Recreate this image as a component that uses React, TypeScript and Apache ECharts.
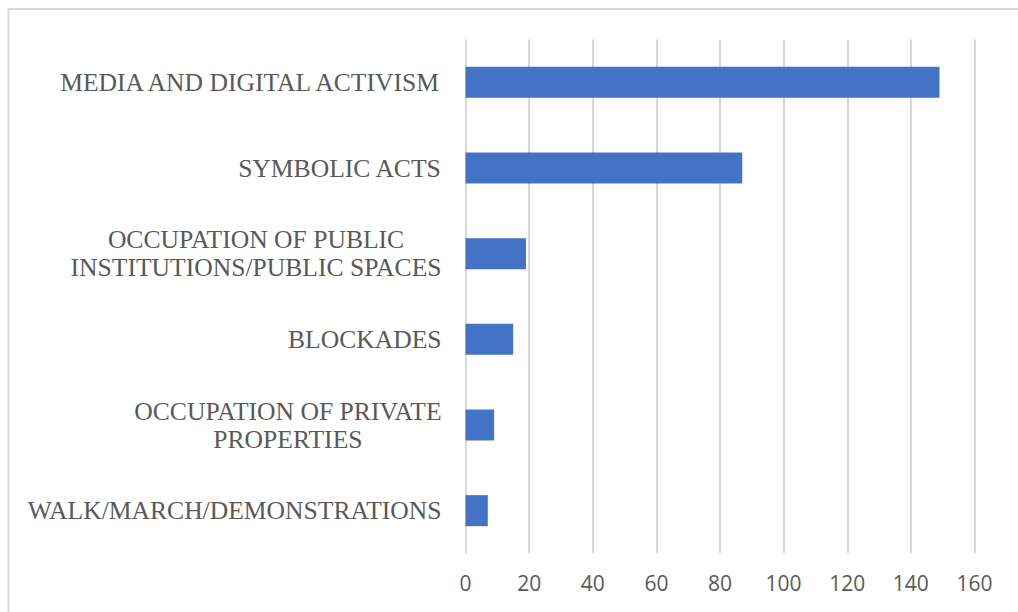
import React, { useEffect, useRef } from "react";
import * as echarts from "echarts";

const categories: string[] = [
  "MEDIA AND DIGITAL ACTIVISM",
  "SYMBOLIC ACTS",
  "OCCUPATION OF PUBLIC\nINSTITUTIONS/PUBLIC SPACES",
  "BLOCKADES",
  "OCCUPATION OF PRIVATE\nPROPERTIES",
  "WALK/MARCH/DEMONSTRATIONS",
];
const values: number[] = [149, 87, 19, 15, 9, 7];
const xMin = 0;
const xMax = 160;
const xInterval = 20;

export default function App() {
  const ref = useRef<HTMLDivElement>(null);
  useEffect(() => {
    if (!ref.current) return;
    const chart = echarts.init(ref.current, undefined, { renderer: "svg" });
    chart.setOption({
      animation: false,
      backgroundColor: "#ffffff",
      graphic: [
        {
          type: "rect",
          shape: { x: 8.5, y: 9, width: 1200, height: 800 },
          style: { fill: "none", stroke: "#d9d9d9", lineWidth: 2 },
          silent: true,
        },
      ],
      grid: { left: 465.5, right: 43.5, top: 39.5, bottom: 58.5, containLabel: false },
      xAxis: {
        type: "value",
        min: xMin,
        max: xMax,
        interval: xInterval,
        axisLine: { show: false },
        axisTick: { show: false },
        splitLine: { show: true, lineStyle: { color: "#d9d9d9", width: 2 } },
        axisLabel: {
          color: "#595959",
          fontFamily: "Open Sans",
          fontSize: 21,
          margin: 19,
        },
      },
      yAxis: {
        type: "category",
        data: categories,
        inverse: true,
        axisLine: { show: false },
        axisTick: { show: false },
        axisLabel: {
          margin: 24,
          color: "#595959",
          fontFamily: "Liberation Serif",
          fontSize: 25.6,
          lineHeight: 28,
          formatter: (v: string) =>
            v
              .split("\n")
              .map((l) => "{c|" + l + "}")
              .join("\n"),
          rich: {
            c: {
              align: "center",
              color: "#595959",
              fontFamily: "Liberation Serif",
              fontSize: 25.6,
              lineHeight: 28,
            },
          },
        },
      },
      series: [
        {
          type: "bar",
          data: values,
          barWidth: 31,
          itemStyle: { color: "#4472C4" },
        },
      ],
    });
    return () => chart.dispose();
  }, []);
  return (
    <div
      ref={ref}
      style={{ position: "fixed", left: 0, top: 0, width: 1018, height: 612 }}
    />
  );
}
